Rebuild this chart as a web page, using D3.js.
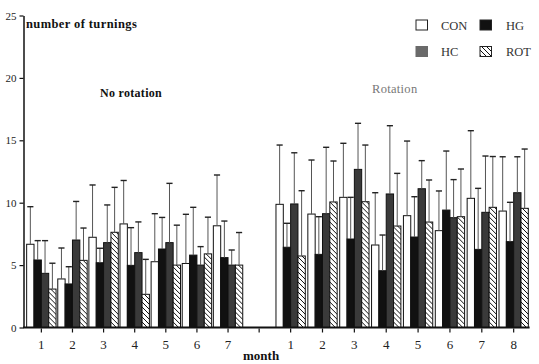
<!DOCTYPE html>
<html>
<head>
<meta charset="utf-8">
<script src="https://cdn.jsdelivr.net/npm/d3@7"></script>
<style>
  body { margin: 0; background: #fff; }
  svg { display: block; }
  text { font-family: "Liberation Serif", "Times New Roman", serif; }
</style>
</head>
<body>
<svg id="chart" width="539" height="364"></svg>
<script>
// ---------- data ----------
const seriesNames = ["CON", "HG", "HC", "ROT"];
const monthsNoRot = ["1", "2", "3", "4", "5", "6", "7"];
const monthsRot = ["1", "2", "3", "4", "5", "6", "7", "8"];
const yTicks = [0, 5, 10, 15, 20, 25];

// No rotation: means and top of error bars
const conNoRot    = [6.67, 3.89, 7.23, 8.30, 5.27, 5.13, 8.15];
const conNoRotErr = [9.68, 6.37, 11.42, 11.78, 9.12, 9.07, 12.22];
const hgNoRot     = [5.41, 3.49, 5.19, 4.98, 6.29, 5.80, 5.60];
const hgNoRotErr  = [6.96, 4.87, 6.35, 8.00, 8.82, 9.63, 8.53];
const hcNoRot     = [4.34, 7.01, 6.80, 6.00, 6.80, 5.00, 5.00];
const hcNoRotErr  = [6.96, 10.10, 9.82, 8.46, 11.55, 6.48, 6.21];
const rotNoRot    = [3.08, 5.38, 7.63, 2.66, 5.00, 5.90, 5.00];
const rotNoRotErr = [5.15, 7.97, 11.23, 5.46, 8.20, 8.84, 7.61];

// Rotation: means and top of error bars
const conRot    = [9.87, 9.09, 10.43, 6.61, 8.96, 7.76, 10.35, 9.33];
const conRotErr = [14.62, 13.42, 14.76, 10.80, 14.94, 10.94, 15.77, 13.68];
const hgRot     = [6.43, 5.86, 7.09, 4.55, 7.25, 9.41, 6.26, 6.88];
const hgRotErr  = [8.35, 8.88, 10.43, 7.41, 10.48, 14.14, 11.15, 10.03];
const hcRot     = [9.90, 9.12, 12.67, 10.70, 11.12, 8.80, 9.23, 10.80];
const hcRotErr  = [14.00, 14.44, 16.36, 16.17, 13.37, 11.85, 13.74, 13.68];
const rotRot    = [5.73, 10.06, 10.08, 8.13, 8.45, 8.88, 9.63, 9.55];
const rotRotErr = [10.96, 13.34, 14.62, 12.35, 11.82, 12.70, 13.70, 14.30];

// ---------- build tables ----------
function buildRows(months, means, errs) {
  return months.map((m, i) => ({
    month: m,
    bars: seriesNames.map((s, k) => ({ key: s, value: means[k][i], top: errs[k][i] }))
  }));
}
const rowsNoRot = buildRows(monthsNoRot,
  [conNoRot, hgNoRot, hcNoRot, rotNoRot],
  [conNoRotErr, hgNoRotErr, hcNoRotErr, rotNoRotErr]);
const rowsRot = buildRows(monthsRot,
  [conRot, hgRot, hcRot, rotRot],
  [conRotErr, hgRotErr, hcRotErr, rotRotErr]);

// ---------- drawing ----------
const svg = d3.select("#chart");
const defs = svg.append("defs");
const hatch = defs.append("pattern")
  .attr("id", "hatch").attr("patternUnits", "userSpaceOnUse")
  .attr("width", 5).attr("height", 5);
hatch.append("rect").attr("width", 5).attr("height", 5).attr("fill", "#fff");
hatch.append("path").attr("d", "M-1,-1 L6,6 M-1,4 L1,6 M4,-1 L6,1")
  .attr("stroke", "#111").attr("stroke-width", 1);

const fills = { CON: "#ffffff", HG: "#111111", HC: "#3a3a3a", ROT: "url(#hatch)" };

const y = d3.scaleLinear().domain([0, 25]).range([327.5, 15.5]);

const xLeft = d3.scaleBand().domain(monthsNoRot).range([25.8, 243.6])
  .paddingInner(0.055).paddingOuter(0.0275);
const xRight = d3.scaleBand().domain(monthsRot).range([274.7, 529.6])
  .paddingInner(0.08).paddingOuter(0.04);

function drawGroup(rows, x0) {
  const x1 = d3.scaleBand().domain(seriesNames).range([0, x0.bandwidth()]).padding(0);
  const g = svg.append("g");
  const grp = g.selectAll("g.month").data(rows).join("g")
    .attr("class", "month")
    .attr("transform", d => `translate(${x0(d.month)},0)`);
  grp.selectAll("rect").data(d => d.bars).join("rect")
    .attr("x", d => x1(d.key))
    .attr("y", d => y(d.value))
    .attr("width", x1.bandwidth())
    .attr("height", d => y(0) - y(d.value))
    .attr("fill", d => fills[d.key])
    .attr("stroke", "#111").attr("stroke-width", 1);
  // error whiskers
  grp.selectAll("line.whisk").data(d => d.bars).join("line")
    .attr("class", "whisk")
    .attr("x1", d => x1(d.key) + x1.bandwidth() / 2)
    .attr("x2", d => x1(d.key) + x1.bandwidth() / 2)
    .attr("y1", d => y(d.value))
    .attr("y2", d => y(d.top))
    .attr("stroke", "#555").attr("stroke-width", 1);
  grp.selectAll("line.cap").data(d => d.bars).join("line")
    .attr("class", "cap")
    .attr("x1", d => x1(d.key) + 0.6)
    .attr("x2", d => x1(d.key) + x1.bandwidth() - 0.6)
    .attr("y1", d => y(d.top))
    .attr("y2", d => y(d.top))
    .attr("stroke", "#222").attr("stroke-width", 1.4);
}
drawGroup(rowsNoRot, xLeft);
drawGroup(rowsRot, xRight);

// y axis
const yAxis = svg.append("g").attr("transform", "translate(23.5,0)")
  .call(d3.axisLeft(y).tickValues(yTicks).tickSize(4).tickSizeOuter(0).tickPadding(3));
yAxis.select(".domain").attr("stroke", "#111").attr("stroke-width", 1.5);
yAxis.selectAll(".tick line").attr("stroke", "#111").attr("stroke-width", 1.2);
yAxis.selectAll(".tick text").attr("font-size", 11).attr("fill", "#222")
  .style("font-family", "Liberation Serif, serif");

// x baseline
svg.append("line")
  .attr("x1", 23).attr("x2", xRight.range()[1])
  .attr("y1", y(0)).attr("y2", y(0))
  .attr("stroke", "#111").attr("stroke-width", 2.2);

function xAxis(scale) {
  const g = svg.append("g").attr("transform", `translate(0,${y(0) + 1})`)
    .call(d3.axisBottom(scale).tickSize(4).tickPadding(7).tickSizeOuter(0));
  g.select(".domain").remove();
  g.selectAll(".tick line").attr("stroke", "#111").attr("stroke-width", 1.2);
  g.selectAll(".tick text").attr("font-size", 13).attr("fill", "#222")
    .style("font-family", "Liberation Serif, serif");
}
xAxis(xLeft);
xAxis(xRight);
// tick in the gap between the two series of months
const gapX = (xLeft.range()[1] + xRight.range()[0]) / 2;
svg.append("line").attr("x1", gapX).attr("x2", gapX)
  .attr("y1", y(0) + 1).attr("y2", y(0) + 5)
  .attr("stroke", "#111").attr("stroke-width", 1.2);

// labels
svg.append("text").attr("x", 26).attr("y", 28)
  .attr("font-size", 12.5).attr("font-weight", "bold").attr("fill", "#111")
  .style("letter-spacing", "0.4px")
  .text("number of turnings");
svg.append("text").attr("x", 100).attr("y", 97)
  .attr("font-size", 12).attr("font-weight", "bold").attr("fill", "#111")
  .style("letter-spacing", "0.3px")
  .text("No rotation");
svg.append("text").attr("x", 372).attr("y", 93)
  .attr("font-size", 12.5).attr("fill", "#777")
  .style("letter-spacing", "0.3px")
  .text("Rotation");
svg.append("text").attr("x", 243).attr("y", 359.5)
  .attr("font-size", 13).attr("font-weight", "bold").attr("fill", "#111")
  .text("month");

// legend
const legendPos = [
  { key: "CON", x: 416, y: 20 },
  { key: "HG", x: 480, y: 20 },
  { key: "HC", x: 416, y: 46.5 },
  { key: "ROT", x: 480, y: 46.5 }
];
const legendFills = { CON: "#ffffff", HG: "#111111", HC: "#6a6a6a", ROT: "url(#hatch)" };
const lg = svg.append("g").selectAll("g").data(legendPos).join("g");
lg.append("rect")
  .attr("x", d => d.x).attr("y", d => d.y)
  .attr("width", 11.5).attr("height", 10)
  .attr("fill", d => legendFills[d.key])
  .attr("stroke", d => d.key === "HC" ? "#6a6a6a" : "#222").attr("stroke-width", 1);
lg.append("text")
  .attr("x", d => d.x + (d.key === "HC" || d.key === "CON" ? 25 : 26))
  .attr("y", d => d.y + 9.5)
  .attr("font-size", 12.5).attr("fill", "#333")
  .text(d => d.key);
</script>
</body>
</html>
